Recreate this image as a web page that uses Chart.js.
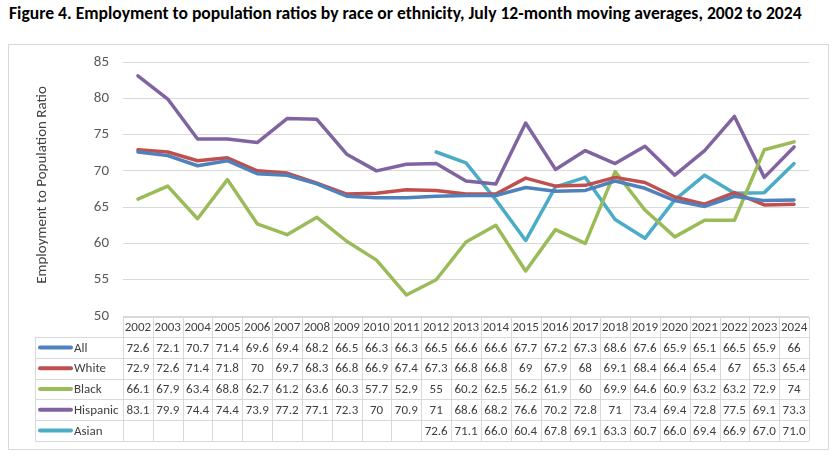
<!DOCTYPE html>
<html>
<head>
<meta charset="utf-8">
<script src="https://cdn.jsdelivr.net/npm/chart.js@4.4.1/dist/chart.umd.min.js"></script>
<style>
  html, body { margin: 0; padding: 0; background: #fff; }
  #wrap { position: relative; width: 835px; height: 457px; overflow: hidden; }
  #title { position: absolute; left: 9px; top: 2px; font-family: "Carlito", "Liberation Sans Narrow", "Open Sans", sans-serif; font-weight: bold; font-size: 17.6px; color: #000; white-space: nowrap; }
  canvas { position: absolute; left: 0; top: 0; }
</style>
</head>
<body>
<div id="wrap">
  <div id="title">Figure 4. Employment to population ratios by race or ethnicity, July 12-month moving averages, 2002 to 2024</div>
  <canvas id="c" width="835" height="457"></canvas>
</div>
<script>
const years = ["2002","2003","2004","2005","2006","2007","2008","2009","2010","2011","2012","2013","2014","2015","2016","2017","2018","2019","2020","2021","2022","2023","2024"];
const allVals = [72.6,72.1,70.7,71.4,69.6,69.4,68.2,66.5,66.3,66.3,66.5,66.6,66.6,67.7,67.2,67.3,68.6,67.6,65.9,65.1,66.5,65.9,66];
const whiteVals = [72.9,72.6,71.4,71.8,70,69.7,68.3,66.8,66.9,67.4,67.3,66.8,66.8,69,67.9,68,69.1,68.4,66.4,65.4,67,65.3,65.4];
const blackVals = [66.1,67.9,63.4,68.8,62.7,61.2,63.6,60.3,57.7,52.9,55,60.2,62.5,56.2,61.9,60,69.9,64.6,60.9,63.2,63.2,72.9,74];
const hispanicVals = [83.1,79.9,74.4,74.4,73.9,77.2,77.1,72.3,70,70.9,71,68.6,68.2,76.6,70.2,72.8,71,73.4,69.4,72.8,77.5,69.1,73.3];
const asianVals = [null,null,null,null,null,null,null,null,null,null,72.6,71.1,66.0,60.4,67.8,69.1,63.3,60.7,66.0,69.4,66.9,67.0,71.0];
const yTicks = [50,55,60,65,70,75,80,85];

const FONT = '"Carlito", "Liberation Sans Narrow", "Open Sans", sans-serif';

const series = [
  { name: "All", data: allVals, color: "#4F81BD", fmt: v => String(v) },
  { name: "White", data: whiteVals, color: "#C0504D", fmt: v => String(v) },
  { name: "Black", data: blackVals, color: "#9BBB59", fmt: v => String(v) },
  { name: "Hispanic", data: hispanicVals, color: "#8064A2", fmt: v => String(v) },
  { name: "Asian", data: asianVals, color: "#4BACC6", fmt: v => v.toFixed(1) }
];

const tablePlugin = {
  id: 'tablePlugin',
  afterDraw(chart) {
    const ctx = chart.ctx;
    const ca = chart.chartArea;
    const xs = chart.scales.x;
    const n = years.length;
    const colW = (ca.right - ca.left) / n;
    ctx.save();
    // outer box
    ctx.strokeStyle = '#d9d9d9';
    ctx.lineWidth = 1;
    ctx.strokeRect(8.5, 44.5, 820, 405);
    // y axis title
    ctx.save();
    ctx.translate(42, (ca.top + ca.bottom) / 2 - 4);
    ctx.rotate(-Math.PI / 2);
    ctx.fillStyle = '#404040';
    ctx.font = '15px ' + FONT;
    ctx.textAlign = 'center';
    ctx.textBaseline = 'middle';
    ctx.fillText('Employment to Population Ratio', 0, 0);
    ctx.restore();

    const top = ca.bottom + 1;
    const headH = 20;
    const rowH = 20.8;
    const legLeft = 35;
    const tableBottom = top + headH + rowH * series.length;
    ctx.strokeStyle = '#d9d9d9';
    ctx.lineWidth = 1;
    ctx.beginPath();
    ctx.moveTo(ca.left, top + 0.5); ctx.lineTo(ca.right, top + 0.5);
    for (let r = 0; r <= series.length; r++) {
      const y = Math.round(top + headH + rowH * r) + 0.5;
      ctx.moveTo(legLeft, y); ctx.lineTo(ca.right, y);
    }
    for (let i = 0; i <= n; i++) {
      const x = Math.round(ca.left + colW * i) + 0.5;
      ctx.moveTo(x, top); ctx.lineTo(x, tableBottom);
    }
    ctx.moveTo(legLeft + 0.5, top + headH); ctx.lineTo(legLeft + 0.5, tableBottom);
    ctx.stroke();

    ctx.fillStyle = '#404040';
    ctx.font = '13px ' + FONT;
    ctx.textAlign = 'center';
    ctx.textBaseline = 'middle';
    years.forEach((yr, i) => {
      ctx.fillText(yr, xs.getPixelForValue(i), top + headH / 2 + 1);
    });
    series.forEach((s, r) => {
      const yc = top + headH + rowH * r + rowH / 2 + 1;
      s.data.forEach((v, i) => {
        if (v === null) return;
        ctx.fillText(s.fmt(v), xs.getPixelForValue(i), yc);
      });
      ctx.strokeStyle = s.color;
      ctx.lineWidth = 4;
      ctx.lineCap = 'round';
      ctx.beginPath();
      ctx.moveTo(40, yc - 1); ctx.lineTo(71, yc - 1);
      ctx.stroke();
      ctx.textAlign = 'left';
      ctx.fillText(s.name, 74, yc);
      ctx.textAlign = 'center';
    });
    ctx.restore();
  }
};

new Chart(document.getElementById('c'), {
  type: 'line',
  data: {
    labels: years,
    datasets: series.map(s => ({
      label: s.name,
      data: s.data,
      borderColor: s.color,
      backgroundColor: s.color,
      borderWidth: 3.5,
      pointRadius: 0,
      pointHoverRadius: 0,
      tension: 0,
      spanGaps: false,
      borderCapStyle: 'round',
      borderJoinStyle: 'round'
    }))
  },
  options: {
    responsive: false,
    animation: false,
    devicePixelRatio: 1,
    layout: { padding: { top: 62, right: 26, bottom: 141, left: 0 } },
    plugins: { legend: { display: false }, title: { display: false }, tooltip: { enabled: false } },
    scales: {
      x: { display: false, offset: true, grid: { display: false } },
      y: {
        min: 50, max: 85,
        afterFit(scale) { scale.width = 123; },
        afterBuildTicks(scale) { scale.ticks = yTicks.map(v => ({ value: v })); },
        grid: { color: '#d9d9d9', drawTicks: false, lineWidth: 1 },
        border: { display: false },
        ticks: { color: '#595959', font: { family: FONT, size: 15 }, padding: 14 }
      }
    }
  },
  plugins: [tablePlugin]
});
</script>
</body>
</html>
